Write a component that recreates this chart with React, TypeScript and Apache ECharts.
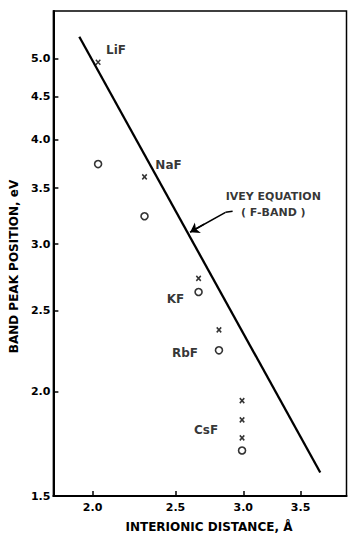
import React, { useEffect, useRef } from "react";
import * as echarts from "echarts";

// ---- data (log–log plot) ----
const compounds = ["LiF", "NaF", "KF", "RbF", "CsF"];
const interionicDistance = [2.03, 2.3, 2.66, 2.81, 2.99];
// "x" markers (several for CsF)
const crossPeaks = [[4.95], [3.61], [2.73], [2.37], [1.95, 1.85, 1.76]];
// "o" markers
const circlePeaks = [3.74, 3.24, 2.63, 2.24, 1.7];
// Ivey equation (F-band) line end points
const iveyDistance = [1.93, 3.69];
const iveyEnergy = [5.31, 1.6];
// axis ticks
const xTicks = [2.0, 2.5, 3.0, 3.5];
const yTicks = [1.5, 2.0, 2.5, 3.0, 3.5, 4.0, 4.5, 5.0];
const xRange = [1.8, 3.96];
const yRange = [1.5, 5.7];

const L = (v: number) => Math.log10(v);
const FONT = "DejaVu Sans";

export default function App() {
  const ref = useRef<HTMLDivElement>(null);
  useEffect(() => {
    if (!ref.current) return;
    const chart = echarts.init(ref.current, null, { renderer: "svg" });

    const crossData: number[][] = [];
    compounds.forEach((_, i) =>
      crossPeaks[i].forEach((e) => crossData.push([L(interionicDistance[i]), L(e)]))
    );
    const circleData = compounds.map((_, i) => [L(interionicDistance[i]), L(circlePeaks[i])]);
    const labelOffsets: Record<string, number[]> = {
      LiF: [18, -12],
      NaF: [24, -12],
      KF: [-23, 21],
      RbF: [-34, 23],
      CsF: [-36, 29],
    };
    const labelData = compounds.map((c, i) => ({
      name: c,
      value: [L(interionicDistance[i]), L(crossPeaks[i][0])],
      label: { offset: labelOffsets[c] },
    }));

    const axisCommon = {
      type: "value" as const,
      splitLine: { show: false },
      axisLine: { show: true, lineStyle: { color: "#000", width: 2 } },
      axisTick: {
        show: true,
        inside: true,
        length: 5,
        lineStyle: { color: "#000", width: 1.5 },
      },
    };

    chart.setOption({
      animation: false,
      backgroundColor: "#fff",
      grid: {
        left: 53,
        right: 1.5,
        top: 11,
        bottom: 36.5,
        show: true,
        borderColor: "#000",
        borderWidth: 1.5,
      },
      xAxis: {
        ...axisCommon,
        min: L(xRange[0]),
        max: L(xRange[1]),
        axisTick: { ...axisCommon.axisTick, customValues: xTicks.map(L) },
        axisLabel: {
          customValues: xTicks.map(L),
          formatter: (v: number) => Math.pow(10, v).toFixed(1),
          color: "#000",
          fontFamily: FONT,
          fontWeight: "bold",
          fontSize: 11,
          margin: 6,
        },
        name: "INTERIONIC DISTANCE, Å",
        nameLocation: "middle",
        nameGap: 25,
        nameTextStyle: {
          color: "#000",
          fontFamily: FONT,
          fontWeight: "bold",
          fontSize: 12,
          padding: [0, 0, 0, 18],
        },
      },
      yAxis: {
        ...axisCommon,
        min: L(yRange[0]),
        max: L(yRange[1]),
        axisTick: { ...axisCommon.axisTick, customValues: yTicks.map(L) },
        axisLabel: {
          customValues: yTicks.map(L),
          formatter: (v: number) => Math.pow(10, v).toFixed(1),
          color: "#000",
          fontFamily: FONT,
          fontWeight: "bold",
          fontSize: 11,
          margin: 3,
        },
        name: "BAND PEAK POSITION, eV",
        nameLocation: "middle",
        nameGap: 29,
        nameRotate: 90,
        nameTextStyle: {
          color: "#000",
          fontFamily: FONT,
          fontWeight: "bold",
          fontSize: 12,
          padding: [0, 26, 0, 0],
        },
      },
      series: [
        {
          name: "Ivey",
          type: "line",
          data: iveyDistance.map((d, i) => [L(d), L(iveyEnergy[i])]),
          symbol: "none",
          lineStyle: { color: "#000", width: 2.3 },
          z: 2,
          markLine: {
            silent: true,
            symbol: ["none", "none"],
            label: { show: false },
            lineStyle: { color: "#000", width: 1.5, type: "solid" },
            data: [
              [{ coord: [L(2.915), L(3.285)] }, { coord: [L(2.86), L(3.275)] }],
              [{ coord: [L(2.86), L(3.275)] }, { coord: [L(2.62), L(3.115)] }],
            ],
          },
        },
        {
          name: "arrowhead",
          type: "lines",
          coordinateSystem: "cartesian2d",
          silent: true,
          symbol: ["none", "arrow"],
          symbolSize: 9,
          lineStyle: { color: "#000", width: 1.5, opacity: 1 },
          z: 3,
          data: [{ coords: [[L(2.7), L(3.17)], [L(2.6), L(3.1)]] }],
        },
        {
          name: "cross",
          type: "scatter",
          data: crossData,
          symbol: "path://M0,0L10,10M10,0L0,10",
          symbolSize: [4.5, 5],
          itemStyle: { color: "rgba(0,0,0,0)", borderColor: "#000", borderWidth: 1.6 },
        },
        {
          name: "circle",
          type: "scatter",
          data: circleData,
          symbol: "circle",
          symbolSize: 7,
          itemStyle: { color: "#fff", borderColor: "#000", borderWidth: 1.6 },
        },
        {
          name: "labels",
          type: "scatter",
          data: labelData,
          symbolSize: 0,
          itemStyle: { color: "rgba(0,0,0,0)" },
          label: {
            show: true,
            position: "inside",
            formatter: "{b}",
            color: "#000",
            textBorderWidth: 0,
            fontFamily: FONT,
            fontWeight: "bold",
            fontSize: 12,
          },
        },
        {
          name: "annotation",
          type: "scatter",
          data: [{ name: "IVEY EQUATION\n( F-BAND )", value: [L(3.252), L(3.344)] }],
          symbolSize: 0,
          itemStyle: { color: "rgba(0,0,0,0)" },
          label: {
            show: true,
            position: "inside",
            formatter: "{b}",
            align: "center",
            color: "#000",
            textBorderWidth: 0,
            fontFamily: FONT,
            fontWeight: "bold",
            fontSize: 11,
            lineHeight: 16,
          },
        },
      ],
    });
    return () => chart.dispose();
  }, []);

  return (
    <div
      ref={ref}
      style={{ position: "fixed", left: 0, top: 0, width: 348, height: 538, background: "#fff" }}
    />
  );
}
